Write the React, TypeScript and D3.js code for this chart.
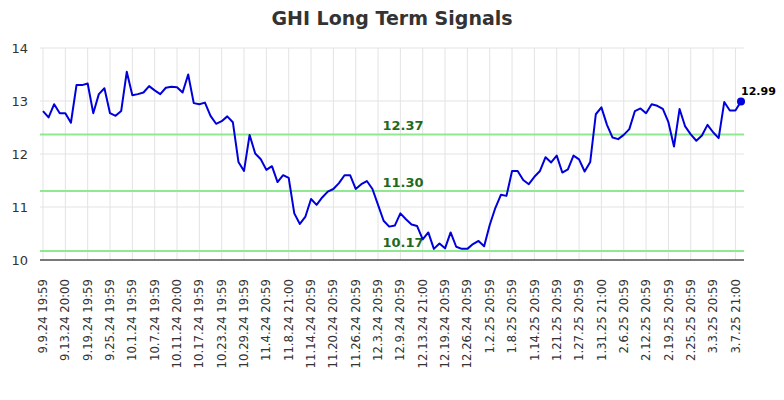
import React from "react";
import * as d3 from "d3";

const tickLabels = [
  "9.9.24 19:59", "9.13.24 20:00", "9.19.24 19:59", "9.25.24 19:59", "10.1.24 19:59",
  "10.7.24 19:59", "10.11.24 20:00", "10.17.24 19:59", "10.23.24 19:59", "10.29.24 19:59",
  "11.4.24 20:59", "11.8.24 21:00", "11.14.24 20:59", "11.20.24 20:59", "11.26.24 20:59",
  "12.3.24 20:59", "12.9.24 20:59", "12.13.24 21:00", "12.19.24 20:59", "12.26.24 20:59",
  "1.2.25 20:59", "1.8.25 20:59", "1.14.25 20:59", "1.21.25 20:59", "1.27.25 20:59",
  "1.31.25 21:00", "2.6.25 20:59", "2.12.25 20:59", "2.19.25 20:59", "2.25.25 20:59",
  "3.3.25 20:59", "3.7.25 21:00",
];
const tickEvery = 4;

const values = [
  12.81, 12.69, 12.94, 12.77, 12.77, 12.59, 13.30, 13.30, 13.33, 12.77, 13.13, 13.24, 12.77, 12.72, 12.81, 13.55, 13.11, 13.13, 13.16, 13.28, 13.20, 13.13,
  13.25, 13.27, 13.26, 13.16, 13.50, 12.96, 12.94, 12.97, 12.72, 12.57, 12.62, 12.71, 12.60, 11.85, 11.68, 12.36, 12.01, 11.90, 11.70, 11.77, 11.47,
  11.60, 11.55, 10.88, 10.68, 10.82, 11.15, 11.04, 11.18, 11.29, 11.34, 11.45, 11.60, 11.60, 11.34, 11.43, 11.49, 11.34, 11.04, 10.74, 10.63, 10.65,
  10.88, 10.77, 10.67, 10.64, 10.39, 10.52, 10.21, 10.31, 10.22, 10.52, 10.25, 10.21, 10.21, 10.30, 10.36, 10.26, 10.66, 10.98, 11.23, 11.21, 11.68,
  11.68, 11.51, 11.43, 11.57, 11.68, 11.94, 11.84, 11.97, 11.65, 11.71, 11.97, 11.90, 11.67, 11.85, 12.75, 12.88, 12.55, 12.31, 12.28, 12.36, 12.47,
  12.81, 12.86, 12.77, 12.94, 12.91, 12.85, 12.60, 12.14, 12.85, 12.52, 12.37, 12.25, 12.35, 12.55, 12.41, 12.30, 12.98, 12.82, 12.82, 12.99,
];

const signalLevels = [12.37, 11.30, 10.17];
const yTicks = [10, 11, 12, 13, 14];
const title = "GHI Long Term Signals";

const W = 784;
const H = 400;
const plotLeft = 40;
const plotRight = 744;
const plotTop = 48;
const plotBottom = 260;
const FONT = "DejaVu Sans, sans-serif";

export default function App() {
  const x = d3.scaleLinear().domain([0, values.length - 1]).range([43, 741]);
  const y = d3.scaleLinear().domain([10, 14]).range([plotBottom, plotTop]);
  const line = d3
    .line<number>()
    .x((_, i) => x(i))
    .y((d) => y(d));
  const last = values.length - 1;

  return (
    <div style={{ position: "fixed", left: 0, top: 0 }}>
      <svg width={W} height={H} style={{ display: "block", background: "#fff" }}>
        <text x={392} y={25} textAnchor="middle" fontFamily={FONT} fontWeight="bold" fontSize={19} fill="#333">
          {title}
        </text>
        {yTicks.map((t) => (
          <line key={"hg" + t} x1={plotLeft} x2={plotRight} y1={y(t)} y2={y(t)} stroke="#e3e3e3" strokeWidth={1} />
        ))}
        {tickLabels.map((lab, k) => (
          <line key={"vg" + k} x1={x(k * tickEvery)} x2={x(k * tickEvery)} y1={plotTop} y2={plotBottom} stroke="#e3e3e3" strokeWidth={1} />
        ))}
        {yTicks.map((t) => (
          <text key={"yl" + t} x={28} y={y(t)} dy="0.35em" textAnchor="end" fontFamily={FONT} fontSize={13} fill="#333">
            {t}
          </text>
        ))}
        {tickLabels.map((lab, k) => {
          const px = x(k * tickEvery);
          return (
            <text
              key={"xl" + k}
              transform={`translate(${px},${279}) rotate(-90)`}
              dy="0.35em"
              textAnchor="end"
              fontFamily={FONT}
              fontSize={11.7}
              fill="#333"
            >
              {lab}
            </text>
          );
        })}
        {signalLevels.map((s) => (
          <g key={"s" + s}>
            <line x1={plotLeft} x2={plotRight} y1={y(s)} y2={y(s)} stroke="#90e890" strokeWidth={2} />
            <text x={403} y={y(s) - 4} textAnchor="middle" fontFamily={FONT} fontWeight="bold" fontSize={13} fill="#1e6b1e">
              {s.toFixed(2)}
            </text>
          </g>
        ))}
        <line x1={plotLeft} x2={plotRight} y1={plotBottom} y2={plotBottom} stroke="#000" strokeWidth={1} />
        <path d={line(values) || ""} fill="none" stroke="#0000dd" strokeWidth={2} strokeLinejoin="round" />
        <circle cx={x(last)} cy={y(values[last])} r={4} fill="#0000dd" />
        <text x={x(last)} y={y(values[last]) - 7} fontFamily={FONT} fontWeight="bold" fontSize={11} fill="#000">
          {values[last].toFixed(2)}
        </text>
      </svg>
    </div>
  );
}
